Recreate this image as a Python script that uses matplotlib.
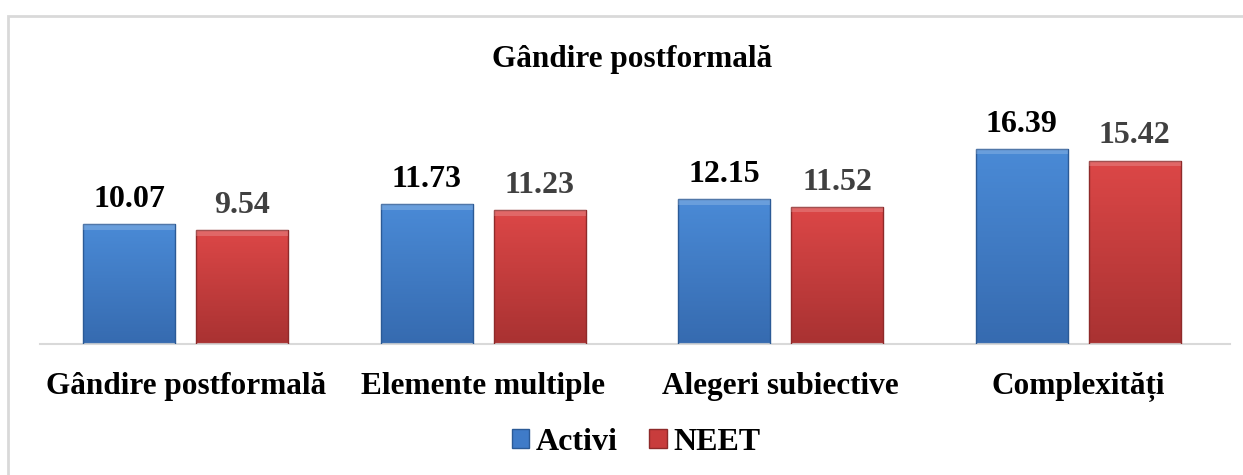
import matplotlib.pyplot as plt
import numpy as np
from matplotlib.patches import Rectangle
from matplotlib.font_manager import FontProperties

plt.rcParams['font.family'] = ['Liberation Serif', 'DejaVu Serif']
serif = ['Liberation Serif', 'DejaVu Serif']

categories = ["Gândire postformală", "Elemente multiple", "Alegeri subiective", "Complexități"]
activi = [10.07, 11.73, 12.15, 16.39]
neet = [9.54, 11.23, 11.52, 15.42]
series_names = ["Activi", "NEET"]
title = "Gândire postformală"

W, H = 1243, 475
fig = plt.figure(figsize=(W / 100, H / 100), dpi=100)
fig.patch.set_facecolor('white')

# light gray frame, only top/left visible
fig.add_artist(Rectangle((8 / W, -0.1), 1.2, (H - 16) / H + 0.1, transform=fig.transFigure,
                         fill=False, edgecolor='#d9d9d9', linewidth=2))

ax = fig.add_axes([40 / W, (H - 344) / H, 1190 / W, 238 / H])
ax.set_xlim(-0.49, 3.51)
ax.set_ylim(0, 20)
for s in ['top', 'right', 'left']:
    ax.spines[s].set_visible(False)
ax.spines['bottom'].set_color('#d9d9d9')
ax.spines['bottom'].set_linewidth(1.5)
ax.set_yticks([])
ax.tick_params(axis='x', length=0, pad=20)

x = np.arange(len(categories))
w = 0.31
off = 0.19


def shade(bars, top, bottom, edge):
    grad = np.linspace(0, 1, 64).reshape(-1, 1)
    cmap = plt.matplotlib.colors.LinearSegmentedColormap.from_list('g', [bottom, top])
    for b in bars:
        x0, y0 = b.get_x(), b.get_y()
        bw, bh = b.get_width(), b.get_height()
        im = ax.imshow(grad, extent=(x0, x0 + bw, y0, y0 + bh), origin='lower',
                       cmap=cmap, aspect='auto', zorder=2)
        im.set_clip_path(b)
        b.set_edgecolor(edge)
        b.set_linewidth(1)
        b.set_zorder(3)
        b.set_facecolor('none')
        # top bevel highlight
        ax.add_patch(Rectangle((x0, y0 + bh - 0.45), bw, 0.45, facecolor='white',
                               alpha=0.18, edgecolor='none', zorder=3))


b1 = ax.bar(x - off, activi, w)
b2 = ax.bar(x + off, neet, w)
shade(b1, '#4a8ad6', '#366bb0', '#2b5a96')
shade(b2, '#dc4747', '#a93232', '#8e2a2a')

for xi, v in zip(x, activi):
    ax.text(xi - off, v + 0.85, f"{v:.2f}", ha='center', va='bottom', fontsize=23,
            fontweight='bold', color='black', family=serif)
for xi, v in zip(x, neet):
    ax.text(xi + off, v + 0.85, f"{v:.2f}", ha='center', va='bottom', fontsize=23,
            fontweight='bold', color='#404040', family=serif)

ax.set_xticks(x)
ax.set_xticklabels(categories, fontweight='bold', fontsize=22.5, family=serif)

fig.text(632 / W, 1 - 60 / H, title, ha='center', va='center', fontsize=22.5,
         fontweight='bold', family=serif)

handles = [Rectangle((0, 0), 1, 1, facecolor='#3f7bc8', edgecolor='#2b5a96'),
           Rectangle((0, 0), 1, 1, facecolor='#c83c3c', edgecolor='#8e2a2a')]
fig.legend(handles, series_names, loc='center', bbox_to_anchor=(636 / W, 1 - 442 / H),
           ncol=2, frameon=False,
           prop=FontProperties(family='Liberation Serif', weight='bold', size=23),
           handlelength=0.55, handleheight=0.55, handletextpad=0.2, columnspacing=1.0)

fig.savefig('out.png', dpi=100)
